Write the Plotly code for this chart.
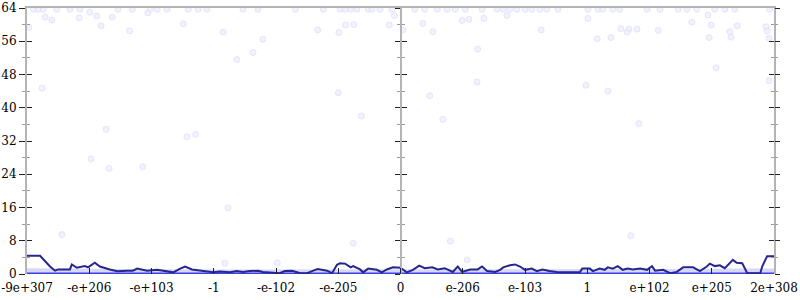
import plotly.graph_objects as go

# ---- data ----
tick_positions = [-6, -5, -4, -3, -2, -1, 0, 1, 2, 3, 4, 5, 6]
tick_labels = ["-9e+307", "-e+206", "-e+103", "-1", "-e-102", "-e-205", "0",
               "e-206", "e-103", "1", "e+102", "e+205", "2e+308"]

# scattered samples near the top (value 64)
top_x = [-5.90, -5.82, -5.74, -5.52, -5.31, -5.15, -4.54, -4.31, -4.02, -3.91, -3.75,
         -3.41, -3.25, -3.11, -2.53, -2.29, -1.69, -1.24, -0.97, -0.89, -0.80, -0.70,
         -0.52, -0.46, -0.33, -0.14, 0.23, 0.39, 0.59, 0.75, 0.88, 1.04, 1.31, 1.55,
         1.65, 1.76, 1.87, 2.00, 2.11, 2.24, 2.35, 2.53, 3.01, 3.17, 3.25, 3.41, 3.52,
         3.96, 4.17, 4.46, 4.60, 4.76, 5.05, 5.21, 5.37, 5.93]
top_y = [63.7] * len(top_x)

# other scattered samples
pts_x = [-5.76, -5.97, -5.71, -5.60, -5.16, -4.99, -4.88, -4.81, -4.63, -4.35, -4.06,
         -3.49, -4.73, -4.97, -4.68, -4.14, -2.85, -2.21, -2.37, -2.63, -1.33, -0.99,
         -0.88, -0.75, -0.18, -0.10, -1.00, -0.63, -3.43, -3.29, 0.04, 0.36, 0.52, 0.47,
         0.99, 1.10, 1.34, 1.71, 1.24, 2.26, 3.01, 3.16, 3.38, 3.54, 3.67, 3.64, 3.80,
         4.14, 4.68, 1.23, 2.98, 3.33, 0.68, 3.83, 4.94, 4.99, 5.41, 5.29, 5.31, 4.96,
         5.87, 5.89, 5.92, 5.07, 5.92, -5.44, -0.76, 0.80, 1.07, 3.70, -1.98, -2.82, -2.77]
pts_y = [44.7, 59.4, 61.8, 61.1, 61.6, 63.0, 62.1, 59.7, 61.8, 58.5, 62.8,
         60.2, 34.8, 27.7, 25.4, 25.8, 58.2, 56.5, 53.3, 51.6, 58.7, 58.1,
         59.9, 60.0, 59.9, 62.2, 43.6, 38.0, 33.0, 33.6, 58.7, 60.3, 58.3, 42.9,
         61.0, 61.3, 61.5, 62.2, 54.1, 58.7, 61.5, 56.6, 56.9, 59.0, 58.9, 58.2, 58.9,
         58.6, 60.6, 46.2, 45.4, 44.0, 37.2, 36.2, 62.3, 59.9, 59.7, 58.3, 57.0, 56.9,
         59.5, 58.5, 56.7, 49.6, 46.5, 9.5, 7.4, 7.9, 3.4, 9.2, 2.7, 2.6, 15.9]

# dense low band of samples (0..~1)
band_x = [-6.0, -5.5, -4.5, -3.0, -1.5, 0.0, 1.5, 3.0, 4.5, 5.5, 6.0]
band_top = [1.4, 1.3, 1.2, 1.1, 1.1, 1.1, 1.2, 1.2, 1.2, 1.3, 1.3]
base_y = [0] * len(band_x)

# running average line
avg_x = [-6.0, -5.79, -5.63, -5.55, -5.50, -5.31, -5.28, -5.20, -5.07, -5.02, -4.91,
         -4.83, -4.67, -4.55, -4.39, -4.30, -4.23, -4.07, -3.91, -3.75, -3.65, -3.54,
         -3.46, -3.35, -3.22, -3.11, -3.01, -2.90, -2.74, -2.63, -2.53, -2.42, -2.29,
         -2.21, -2.10, -1.94, -1.86, -1.74, -1.61, -1.50, -1.40, -1.33, -1.18, -1.10,
         -1.02, -0.97, -0.89, -0.80, -0.76, -0.65, -0.60, -0.52, -0.38, -0.30, -0.22,
         -0.12, 0.0, 0.10, 0.20, 0.30, 0.39, 0.51, 0.60, 0.71, 0.84, 0.92, 0.99, 1.12,
         1.24, 1.31, 1.39, 1.52, 1.60, 1.65, 1.76, 1.84, 1.92, 2.00, 2.11, 2.19, 2.28,
         2.39, 2.51, 2.60, 2.88, 2.92, 3.04, 3.09, 3.20, 3.28, 3.33, 3.41, 3.49, 3.57,
         3.65, 3.73, 3.85, 3.96, 4.04, 4.09, 4.22, 4.33, 4.44, 4.54, 4.70, 4.81, 4.92,
         4.97, 5.05, 5.13, 5.21, 5.29, 5.34, 5.40, 5.49, 5.57, 5.78, 5.81, 5.86, 5.89, 6.0]
avg_y = [4.4, 4.4, 1.8, 0.8, 1.1, 1.1, 2.3, 1.5, 1.9, 1.6, 2.7,
         1.8, 1.1, 0.65, 0.8, 0.8, 1.3, 0.8, 1.0, 0.6, 0.4, 1.3,
         1.8, 1.1, 0.8, 0.5, 0.4, 0.6, 0.4, 0.7, 0.5, 0.7, 0.8,
         0.5, 0.4, 0.2, 0.7, 0.8, 0.2, 0.2, 0.8, 1.2, 0.8, 0.2,
         2.2, 2.6, 2.5, 1.6, 1.9, 1.1, 0.4, 1.3, 1.0, 0.4, 1.1,
         1.6, 1.5, 0.4, 1.0, 2.0, 1.4, 1.6, 1.1, 1.4, 0.5, 1.8, 0.5, 1.1,
         1.1, 1.8, 0.7, 0.5, 1.0, 1.6, 2.1, 2.3, 1.8, 1.0, 1.3, 0.7, 1.1,
         0.7, 0.5, 0.4, 0.4, 1.3, 1.3, 0.7, 1.3, 1.0, 1.6, 1.3, 1.9, 1.0,
         1.3, 1.1, 1.3, 1.0, 1.9, 0.8, 1.0, 0.2, 0.5, 1.6, 1.6, 0.7, 1.8,
         2.5, 1.9, 2.1, 1.4, 2.6, 3.4, 2.7, 2.6, 0.2, 0.2, 1.8, 3.2, 4.3, 4.3]

y_ticks = [0, 8, 16, 24, 32, 40, 48, 56, 64]

# ---- styles ----
GREY = "#b4b4b4"
TICK = "#222222"
MINOR = "#9a9a9a"
FONT = dict(family="DejaVu Serif", size=12, color="#000000")
pt_marker = dict(size=6, color="rgba(236,236,254,0.7)",
                 line=dict(color="rgba(215,215,250,0.6)", width=1))

fig = go.Figure()
fig.add_trace(go.Scatter(x=band_x, y=band_top, mode="lines", fill="tozeroy",
                         fillcolor="rgba(205,205,248,0.8)", line=dict(width=0),
                         hoverinfo="skip", showlegend=False))
fig.add_trace(go.Scatter(x=band_x, y=base_y, mode="lines",
                         line=dict(color="rgba(55,55,225,0.95)", width=3),
                         showlegend=False, cliponaxis=False))
fig.add_trace(go.Scatter(x=top_x, y=top_y, mode="markers", marker=pt_marker,
                         showlegend=False))
fig.add_trace(go.Scatter(x=pts_x, y=pts_y, mode="markers", marker=pt_marker,
                         showlegend=False))
fig.add_trace(go.Scatter(x=avg_x, y=avg_y, mode="lines",
                         line=dict(color="#26268f", width=2),
                         showlegend=False, cliponaxis=False))

# invisible anchors so every tick axis is drawn
for ax in ["y2", "y3", "y4", "y5", "y6"]:
    fig.add_trace(go.Scatter(x=[0], y=[32], yaxis=ax, mode="markers",
                             marker=dict(opacity=0), hoverinfo="skip",
                             showlegend=False))
fig.add_trace(go.Scatter(x=[0], y=[32], xaxis="x2", mode="markers",
                         marker=dict(opacity=0), hoverinfo="skip", showlegend=False))

def mnr(side):
    return dict(dtick=4, tick0=0, ticks=side, ticklen=3, tickcolor=MINOR, tickwidth=1)

def yax(**kw):
    d = dict(range=[0, 64], tickvals=y_ticks, showgrid=False, zeroline=False,
             tickcolor=TICK, tickwidth=1, showticklabels=False, fixedrange=True,
             automargin=False)
    d.update(kw)
    return d

fig.update_layout(
    width=800, height=300,
    margin=dict(l=27, r=26, t=8, b=26, autoexpand=False),
    paper_bgcolor="white", plot_bgcolor="white",
    xaxis=dict(range=[-6, 6], tickvals=tick_positions, ticktext=tick_labels,
               ticks="inside", ticklen=6, tickcolor=TICK, tickwidth=1,
               showline=False, showgrid=False, zeroline=False, tickfont=FONT,
               fixedrange=True, ticklabelstandoff=5, automargin=False),
    xaxis2=dict(overlaying="x", side="top", range=[-6, 6], showline=True,
                linecolor=GREY, linewidth=2, ticks="", showticklabels=False,
                showgrid=False, zeroline=False, fixedrange=True, automargin=False),
    yaxis=yax(ticks="outside", ticklen=6, showticklabels=True, tickfont=FONT,
              showline=True, linecolor=GREY, linewidth=2, mirror=True,
              minor=mnr("outside")),
    yaxis2=yax(overlaying="y", side="left", ticks="inside", ticklen=5,
               minor=mnr("inside")),
    yaxis3=yax(overlaying="y", side="right", ticks="outside", ticklen=5,
               minor=mnr("outside")),
    yaxis4=yax(overlaying="y", side="right", ticks="inside", ticklen=5,
               minor=mnr("inside")),
    yaxis5=yax(overlaying="y", anchor="free", position=0.5, side="left",
               ticks="outside", ticklen=5, showline=True, linecolor=GREY, linewidth=2,
               minor=mnr("outside")),
    yaxis6=yax(overlaying="y", anchor="free", position=0.5, side="left",
               ticks="inside", ticklen=5, minor=mnr("inside")),
)

fig.write_html("out.html")
